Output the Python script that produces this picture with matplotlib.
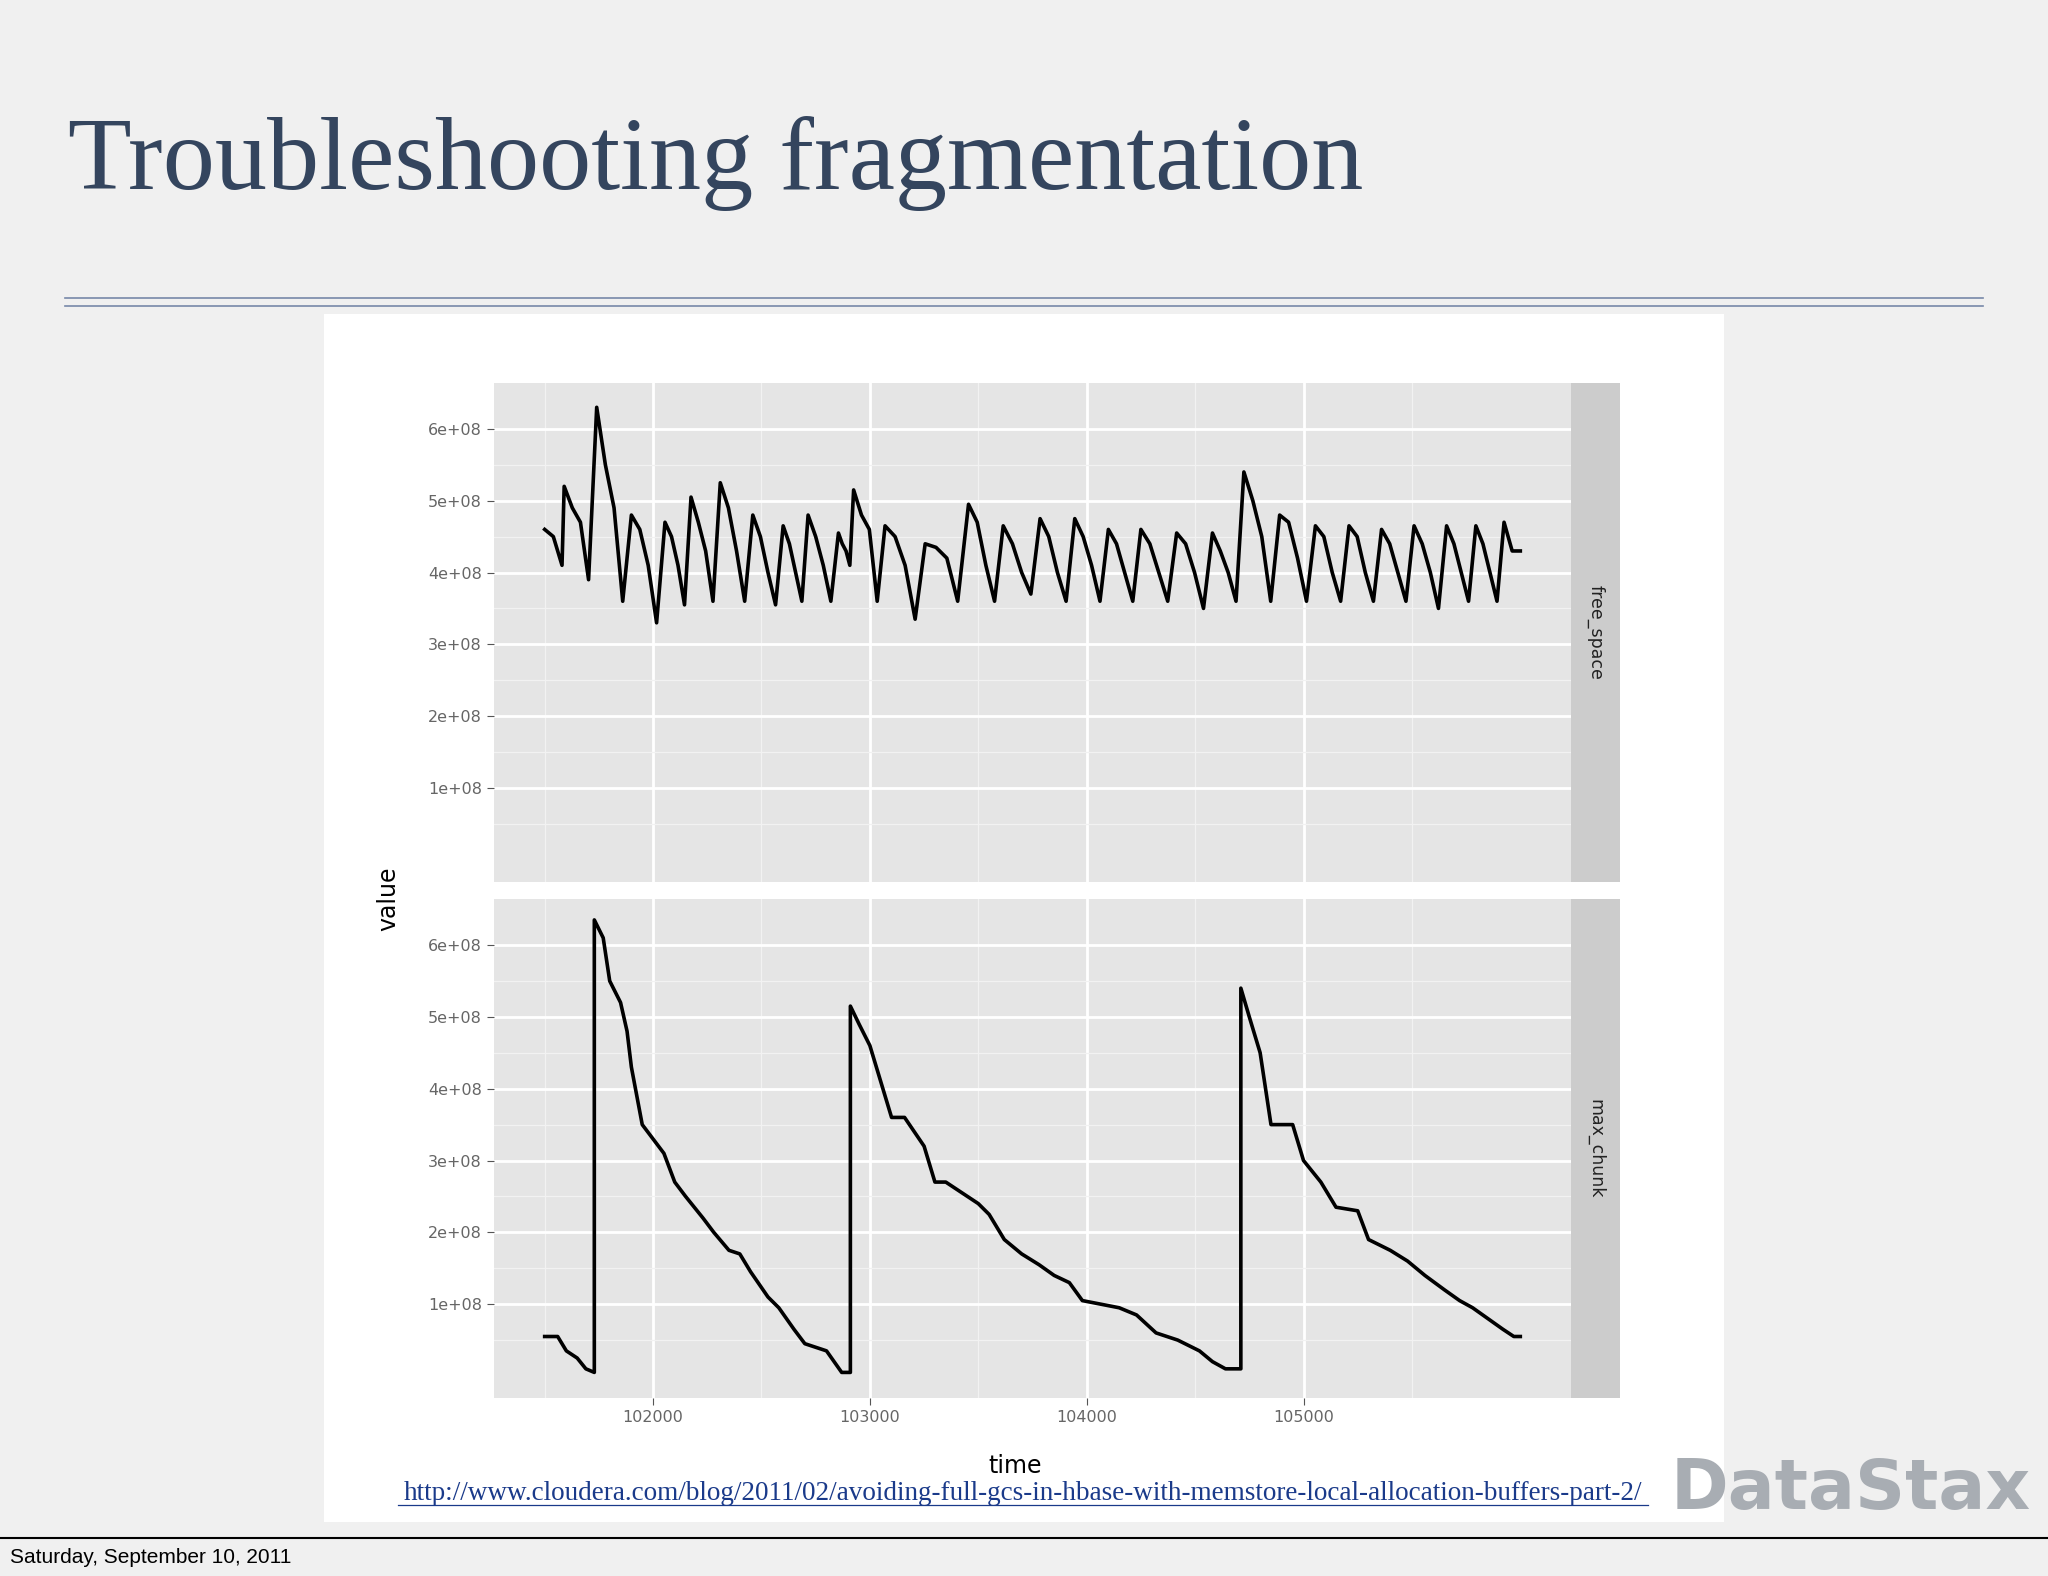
import matplotlib
matplotlib.use("Agg")
import matplotlib.pyplot as plt
from matplotlib.patches import Rectangle
from matplotlib.lines import Line2D

# ---- data ----
title = "Troubleshooting fragmentation"
url = "http://www.cloudera.com/blog/2011/02/avoiding-full-gcs-in-hbase-with-memstore-local-allocation-buffers-part-2/"
footer = "Saturday, September 10, 2011"
facets = ["free_space", "max_chunk"]
x_ticks = [102000, 103000, 104000, 105000]
y_ticks = [1e8, 2e8, 3e8, 4e8, 5e8, 6e8]
y_labels = ["1e+08", "2e+08", "3e+08", "4e+08", "5e+08", "6e+08"]

# free_space: each tooth = jump time and 4 step values (peak ... trough)
fs_start_t = [101500, 101540, 101580]
fs_start_v = [4.6e8, 4.5e8, 4.1e8]
fs_jump_t = [101590, 101740, 101900, 102055, 102175, 102310, 102460, 102600,
             102715, 102855, 102925, 103070, 103255, 103455, 103615, 103785,
             103945, 104100, 104250, 104415, 104580, 104725, 104890, 105055,
             105210, 105360, 105510, 105660, 105795, 105925]
fs_teeth = [
    [5.2e8, 4.9e8, 4.7e8, 3.9e8], [6.3e8, 5.5e8, 4.9e8, 3.6e8],
    [4.8e8, 4.6e8, 4.1e8, 3.3e8], [4.7e8, 4.5e8, 4.1e8, 3.55e8],
    [5.05e8, 4.7e8, 4.3e8, 3.6e8], [5.25e8, 4.9e8, 4.3e8, 3.6e8],
    [4.8e8, 4.5e8, 4.0e8, 3.55e8], [4.65e8, 4.4e8, 4.0e8, 3.6e8],
    [4.8e8, 4.5e8, 4.1e8, 3.6e8], [4.55e8, 4.4e8, 4.3e8, 4.1e8],
    [5.15e8, 4.8e8, 4.6e8, 3.6e8], [4.65e8, 4.5e8, 4.1e8, 3.35e8],
    [4.4e8, 4.35e8, 4.2e8, 3.6e8], [4.95e8, 4.7e8, 4.1e8, 3.6e8],
    [4.65e8, 4.4e8, 4.0e8, 3.7e8], [4.75e8, 4.5e8, 4.0e8, 3.6e8],
    [4.75e8, 4.5e8, 4.1e8, 3.6e8], [4.6e8, 4.4e8, 4.0e8, 3.6e8],
    [4.6e8, 4.4e8, 4.0e8, 3.6e8], [4.55e8, 4.4e8, 4.0e8, 3.5e8],
    [4.55e8, 4.3e8, 4.0e8, 3.6e8], [5.4e8, 5.0e8, 4.5e8, 3.6e8],
    [4.8e8, 4.7e8, 4.2e8, 3.6e8], [4.65e8, 4.5e8, 4.0e8, 3.6e8],
    [4.65e8, 4.5e8, 4.0e8, 3.6e8], [4.6e8, 4.4e8, 4.0e8, 3.6e8],
    [4.65e8, 4.4e8, 4.0e8, 3.5e8], [4.65e8, 4.4e8, 4.0e8, 3.6e8],
    [4.65e8, 4.4e8, 4.0e8, 3.6e8], [4.7e8, 4.5e8, 4.3e8, 4.3e8],
]
fs_end_t = 106000

mc_t = [101500, 101560, 101600, 101650, 101690, 101729, 101729, 101770, 101800,
        101850, 101880, 101900, 101950, 102000, 102050, 102100, 102150, 102230,
        102280, 102350, 102400, 102450, 102530, 102580, 102650, 102700, 102800,
        102870, 102910, 102910, 102950, 103000, 103060, 103100, 103160, 103250,
        103300, 103350, 103500, 103550, 103620, 103700, 103780, 103850, 103920,
        103980, 104150, 104230, 104320, 104420, 104520, 104580, 104640, 104711,
        104711, 104750, 104800, 104850, 104950, 105000, 105080, 105150, 105250,
        105300, 105400, 105480, 105560, 105650, 105720, 105780, 105850, 105920,
        105970, 106000]
mc_v = [0.55e8, 0.55e8, 0.35e8, 0.25e8, 0.1e8, 0.05e8, 6.35e8, 6.1e8, 5.5e8,
        5.2e8, 4.8e8, 4.3e8, 3.5e8, 3.3e8, 3.1e8, 2.7e8, 2.5e8, 2.2e8, 2.0e8,
        1.75e8, 1.7e8, 1.45e8, 1.1e8, 0.95e8, 0.65e8, 0.45e8, 0.35e8, 0.05e8,
        0.05e8, 5.15e8, 4.9e8, 4.6e8, 4.0e8, 3.6e8, 3.6e8, 3.2e8, 2.7e8, 2.7e8,
        2.4e8, 2.25e8, 1.9e8, 1.7e8, 1.55e8, 1.4e8, 1.3e8, 1.05e8, 0.95e8,
        0.85e8, 0.6e8, 0.5e8, 0.35e8, 0.2e8, 0.1e8, 0.1e8, 5.4e8, 5.0e8, 4.5e8,
        3.5e8, 3.5e8, 3.0e8, 2.7e8, 2.35e8, 2.3e8, 1.9e8, 1.75e8, 1.6e8, 1.4e8,
        1.2e8, 1.05e8, 0.95e8, 0.8e8, 0.65e8, 0.55e8, 0.55e8]

# assemble free_space path
fs_t = list(fs_start_t)
fs_v = list(fs_start_v)
jumps = fs_jump_t + [fs_end_t]
for i, vals in enumerate(fs_teeth):
    t0, t1 = jumps[i], jumps[i + 1]
    for k, v in enumerate(vals):
        fs_t.append(t0 + (t1 - t0) * k / len(vals))
        fs_v.append(v)
fs_t.append(fs_end_t)
fs_v.append(fs_teeth[-1][-1])

fig = plt.figure(figsize=(20.48, 15.76), dpi=100)
fig.patch.set_facecolor("#f0f0f0")

fig.add_artist(Rectangle((248/1568, 1-1165/1206), (1320-248)/1568, (1165-240)/1206,
                         transform=fig.transFigure, facecolor="white", edgecolor="none", zorder=0))

fig.text(52/1568, 1-125/1206, title, fontsize=75, family="Liberation Serif",
         color="#34455e", va="center", ha="left")
for yy in (228, 234):
    fig.add_artist(Line2D([50/1568, 1518/1568], [1-yy/1206]*2, transform=fig.transFigure,
                          color="#7788a8", lw=1.2))
fig.add_artist(Line2D([0, 1], [1-1177/1206]*2, transform=fig.transFigure, color="black", lw=1.5))
fig.text(8/1568, 1-1192/1206, footer, fontsize=15, family="Liberation Sans", va="center")
fig.text(783/1568, 1-1143/1206, url, fontsize=19.5, family="Liberation Serif",
         color="#1a3a8a", va="center", ha="center")
fig.add_artist(Line2D([305/1568, 1262/1568], [1-1152/1206]*2, transform=fig.transFigure,
                      color="#1a3a8a", lw=0.9))
fig.text(1555/1568, 1-1140/1206, "DataStax", fontsize=50, family="DejaVu Sans",
         fontweight="bold", color="#a8adb3", va="center", ha="right")

L, R = 378/1568, 1203/1568
SW = (1240-1203)/1568
panels = [(293, 675, fs_t, fs_v), (688, 1070, mc_t, mc_v)]
for idx, (top, bot, tt, vv) in enumerate(panels):
    ax = fig.add_axes([L, 1-bot/1206, R-L, (bot-top)/1206])
    ax.set_facecolor("#e5e5e5")
    ax.plot(tt, vv, color="black", lw=2.6)
    ax.set_xlim(101265, 106235)
    ax.set_ylim(-0.31e8, 6.64e8)
    ax.set_yticks(y_ticks)
    ax.set_yticklabels(y_labels)
    ax.set_yticks([0.5e8 + 1e8*k for k in range(6)], minor=True)
    ax.set_xticks(x_ticks)
    ax.set_xticks([101500 + 1000*k for k in range(5)], minor=True)
    ax.grid(True, which="major", color="white", lw=2)
    ax.grid(True, which="minor", color="#f2f2f2", lw=0.9)
    ax.set_axisbelow(True)
    for s in ax.spines.values():
        s.set_visible(False)
    ax.tick_params(which="major", length=5, color="#555555", labelsize=11.5, labelcolor="#666666")
    ax.tick_params(which="minor", length=0)
    if idx == 0:
        ax.tick_params(axis="x", length=0, labelbottom=False)
    sax = fig.add_axes([R, 1-bot/1206, SW, (bot-top)/1206])
    sax.set_facecolor("#cccccc")
    sax.set_xticks([]); sax.set_yticks([])
    for s in sax.spines.values():
        s.set_visible(False)
    sax.text(0.5, 0.5, facets[idx], rotation=-90, ha="center", va="center",
             fontsize=12.5, color="#222222", transform=sax.transAxes)

fig.text(297/1568, 1-688/1206, "value", rotation=90, fontsize=17, ha="center", va="center")
fig.text(777/1568, 1-1122/1206, "time", fontsize=17, ha="center", va="center")

fig.savefig("out.png", dpi=100)
